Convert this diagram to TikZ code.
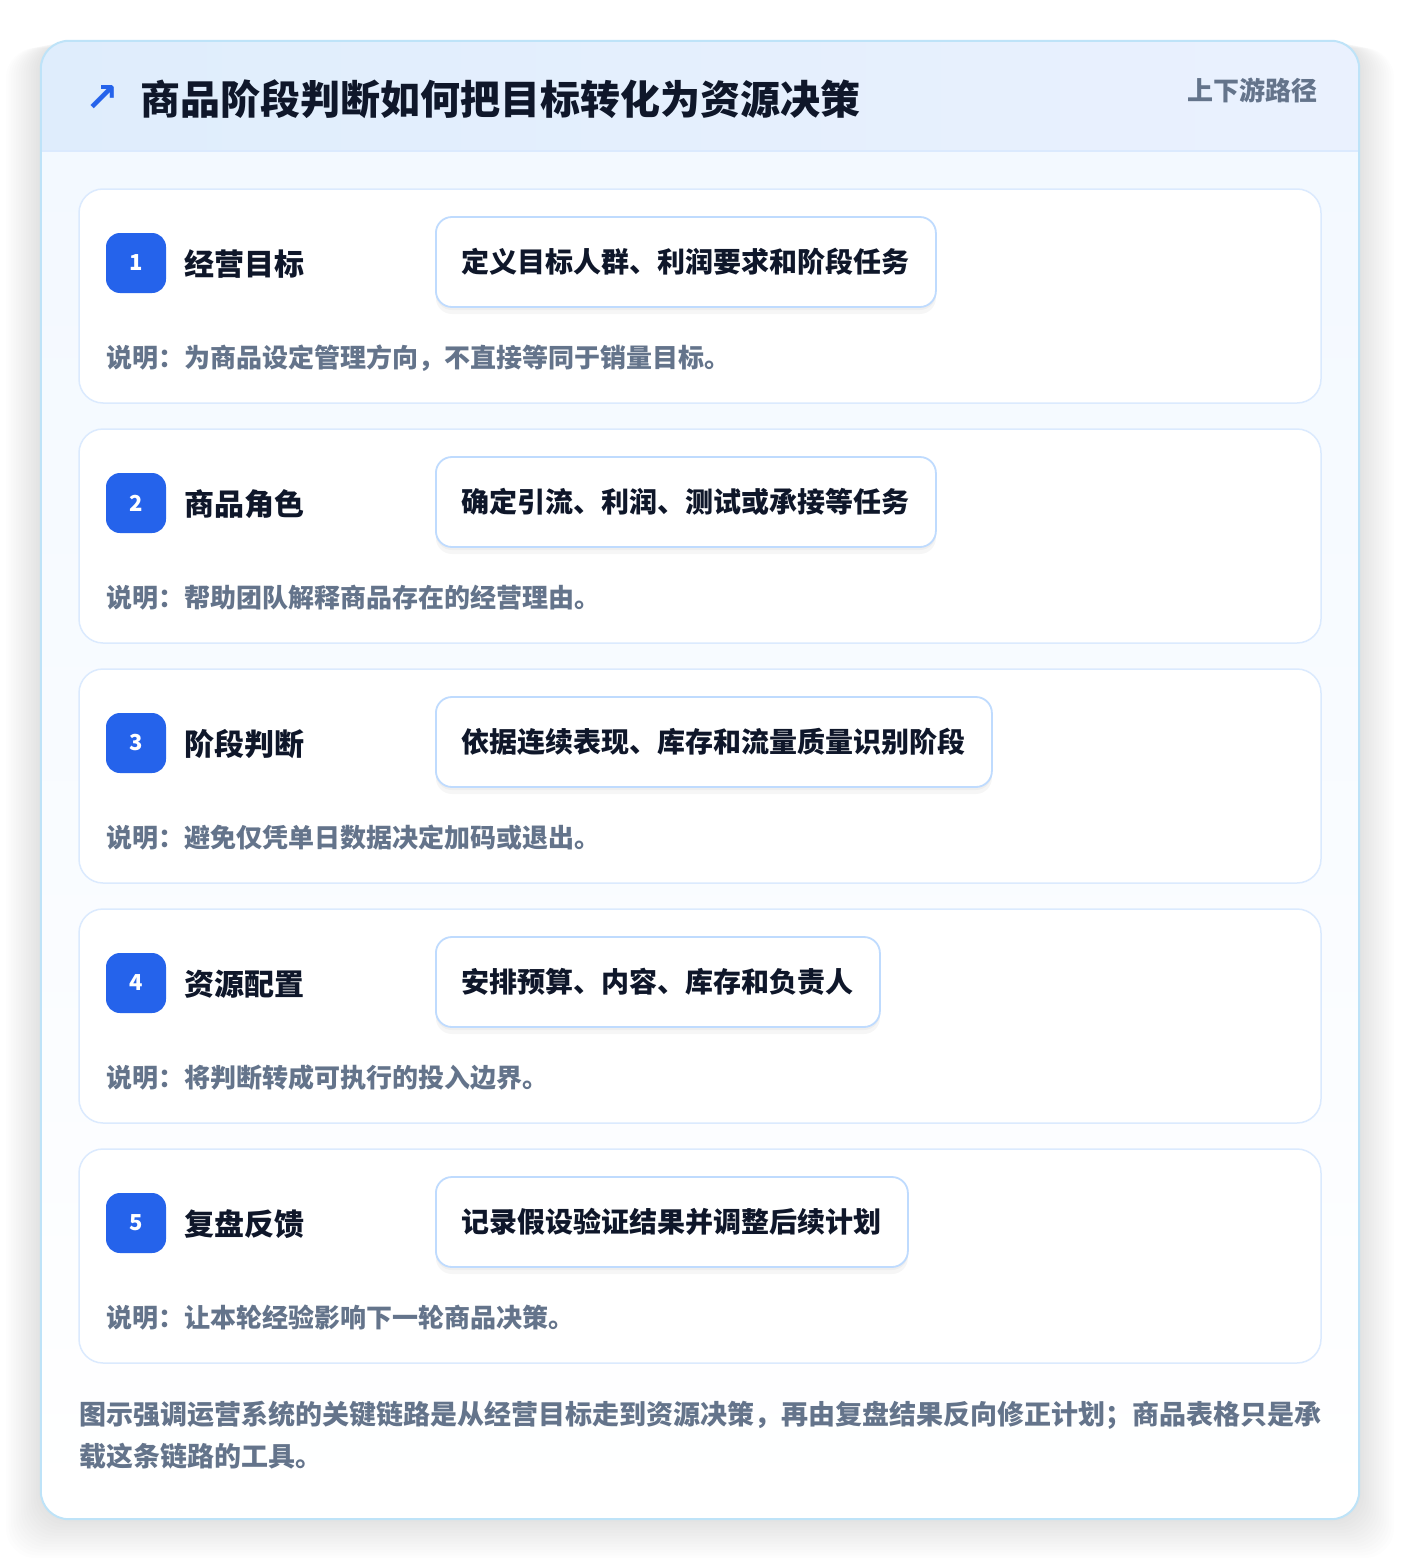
\documentclass[tikz,border=0pt]{standalone}
\usepackage{fontspec}
\newfontfamily\cjk{Noto Sans CJK SC}
\newfontfamily\djv{DejaVu Sans}
\usetikzlibrary{shadows}
\definecolor{cblue}{HTML}{2563EB}
\definecolor{cdark}{HTML}{0F172A}
\definecolor{cgray}{HTML}{64748B}
\definecolor{pillborder}{HTML}{BFDBFE}
\definecolor{cardborder}{HTML}{DBEAFE}
\definecolor{outerborder}{HTML}{BEE3F8}
\definecolor{hdrL}{HTML}{DFEDFC}
\definecolor{hdrR}{HTML}{EAF1FE}
\definecolor{bodyT}{HTML}{F2F8FF}
\tikzset{
  stepcard/.style={draw=cardborder, line width=1.5pt, fill=white, rounded corners=24pt,
    minimum width=1242pt, minimum height=214pt, inner sep=0pt},
  badge/.style={fill=cblue, rounded corners=14pt, minimum width=60pt, minimum height=60pt,
    inner sep=0pt, text=white, font=\cjk\bfseries\fontsize{22}{26}\selectfont},
  steptitle/.style={anchor=west, inner sep=0pt, text=cdark, font=\cjk\bfseries\fontsize{30}{36}\selectfont},
  pill/.style={anchor=west, draw=pillborder, line width=1.8pt, fill=white, rounded corners=16pt,
    minimum height=90pt, inner xsep=26pt, inner ysep=0pt, text=cdark,
    font=\cjk\bfseries\fontsize{28}{34}\selectfont,
    drop shadow={shadow xshift=0pt, shadow yshift=-7pt, opacity=0.035, fill=black},
    drop shadow={shadow xshift=0pt, shadow yshift=-3pt, opacity=0.03, fill=black}},
  desc/.style={anchor=west, inner sep=0pt, text=cgray, font=\cjk\bfseries\fontsize{26}{32}\selectfont},
}
\begin{document}
\begin{tikzpicture}[x=1pt,y=-1pt]
\useasboundingbox (0,0) rectangle (1400,1560);
\fill[white] (0,0) rectangle (1400,1560);
% soft shadow of the outer card
\foreach \k in {1,...,14} {
  \fill[black, opacity=0.006, rounded corners=30pt]
    (41-2.5*\k, 41+0.5*\k) rectangle (1359+2.5*\k, 1519+2.8*\k);
}
% outer card
\node[inner sep=0pt, minimum width=1318pt, minimum height=1478pt, rounded corners=28pt,
      top color=bodyT, bottom color=white] (card) at (700,780) {};
\begin{scope}
  \clip[rounded corners=28pt] (41,41) rectangle (1359,1519);
  \fill[left color=hdrL, right color=hdrR] (41,41) rectangle (1359,151);
\end{scope}
\coordinate (hl) at (41,151);
\coordinate (hr) at (1359,151);
\draw[cardborder, line width=1.5pt] (hl) -- (hr);
\draw[outerborder, line width=2pt, rounded corners=28pt] (card.north west) rectangle (card.south east);
% header
\node[inner sep=0pt, text=cblue, font=\djv\bfseries\fontsize{40}{44}\selectfont] (icon) at (102,99) {↗};
\node[anchor=west, inner sep=0pt, text=cdark, font=\cjk\bfseries\fontsize{40}{48}\selectfont] (title) at (140,99) {商品阶段判断如何把目标转化为资源决策};
\node[anchor=east, inner sep=0pt, text=cgray, font=\cjk\bfseries\fontsize{26}{32}\selectfont] (tag) at (1318,90) {上下游路径};
% steps
\foreach \i/\t/\p/\d in {
  1/经营目标/定义目标人群、利润要求和阶段任务/说明：为商品设定管理方向，不直接等同于销量目标。,
  2/商品角色/确定引流、利润、测试或承接等任务/说明：帮助团队解释商品存在的经营理由。,
  3/阶段判断/依据连续表现、库存和流量质量识别阶段/说明：避免仅凭单日数据决定加码或退出。,
  4/资源配置/安排预算、内容、库存和负责人/说明：将判断转成可执行的投入边界。,
  5/复盘反馈/记录假设验证结果并调整后续计划/说明：让本轮经验影响下一轮商品决策。} {
  \pgfmathsetmacro{\top}{189+240*(\i-1)}
  \node[stepcard] (s\i) at (700, \top+107) {};
  \node[badge] (b\i) at (136, \top+74) {\i};
  \node[steptitle] (t\i) at (184, \top+75) {\t};
  \node[pill] (p\i) at (435, \top+73) {\p};
  \node[desc] (d\i) at (106, \top+169) {\d};
}
% footer
\node[anchor=north west, inner sep=0pt, text=cgray, align=left, text width=1260pt,
      font=\cjk\bfseries\fontsize{27}{42}\selectfont] (foot) at (79,1401)
  {图示强调运营系统的关键链路是从经营目标走到资源决策，再由复盘结果反向修正计划；商品表格只是承\\载这条链路的工具。};
\end{tikzpicture}
\end{document}
